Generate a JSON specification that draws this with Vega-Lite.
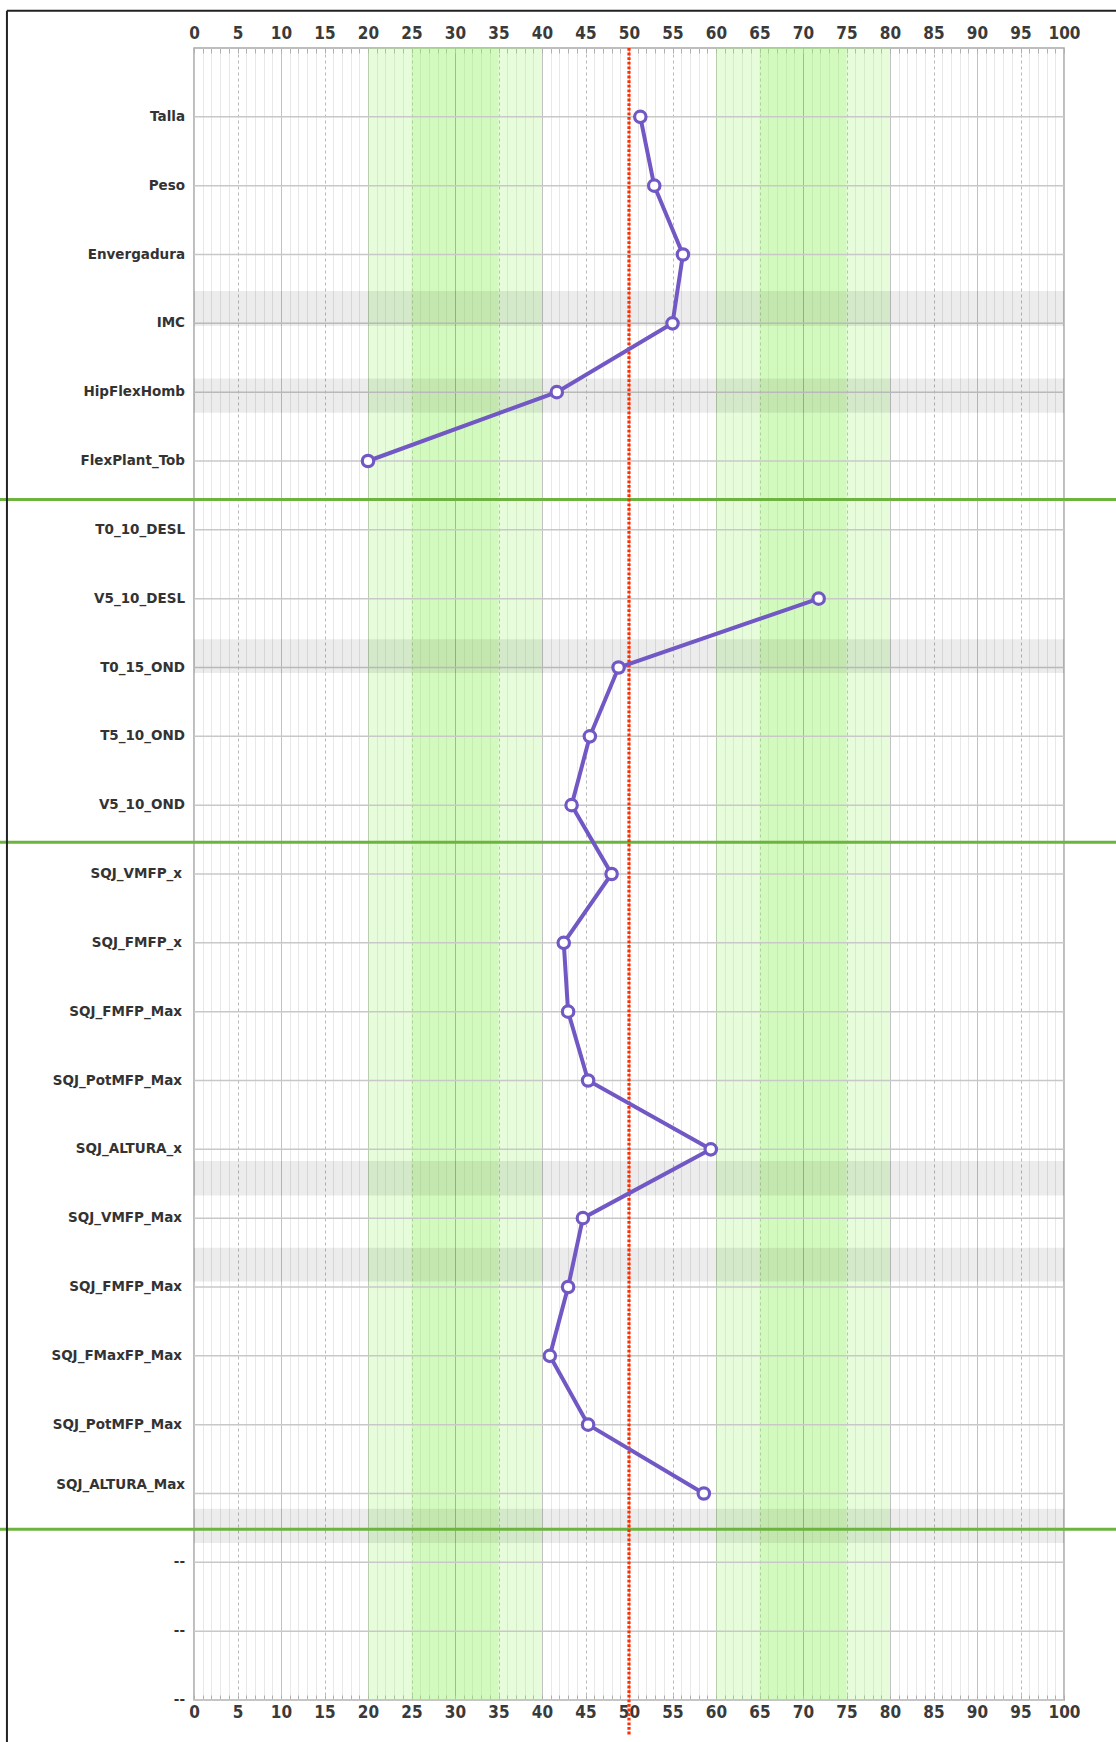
{
  "$schema": "https://vega.github.io/schema/vega-lite/v6.json",
  "width": 870,
  "height": 1652,
  "autosize": "none",
  "padding": {"left": 194, "top": 48, "right": 52, "bottom": 42},
  "background": "white",
  "config": {
    "view": {"stroke": "#a8a8a8", "strokeWidth": 1.5},
    "font": "DejaVu Sans"
  },
  "datasets": {
    "scores": [
      {"idx": 1, "name": "Talla", "value": 51.3},
      {"idx": 2, "name": "Peso", "value": 52.9},
      {"idx": 3, "name": "Envergadura", "value": 56.2},
      {"idx": 4, "name": "IMC", "value": 55.0},
      {"idx": 5, "name": "HipFlexHomb", "value": 41.7},
      {"idx": 6, "name": "FlexPlant_Tob", "value": 20.0},
      {"idx": 7, "name": "T0_10_DESL", "value": null},
      {"idx": 8, "name": "V5_10_DESL", "value": 71.8},
      {"idx": 9, "name": "T0_15_OND", "value": 48.8},
      {"idx": 10, "name": "T5_10_OND", "value": 45.5},
      {"idx": 11, "name": "V5_10_OND", "value": 43.4},
      {"idx": 12, "name": "SQJ_VMFP_x", "value": 48.0},
      {"idx": 13, "name": "SQJ_FMFP_x", "value": 42.5},
      {"idx": 14, "name": "SQJ_FMFP_Max", "value": 43.0},
      {"idx": 15, "name": "SQJ_PotMFP_Max", "value": 45.3},
      {"idx": 16, "name": "SQJ_ALTURA_x", "value": 59.4},
      {"idx": 17, "name": "SQJ_VMFP_Max", "value": 44.7},
      {"idx": 18, "name": "SQJ_FMFP_Max", "value": 43.0},
      {"idx": 19, "name": "SQJ_FMaxFP_Max", "value": 40.9},
      {"idx": 20, "name": "SQJ_PotMFP_Max", "value": 45.3},
      {"idx": 21, "name": "SQJ_ALTURA_Max", "value": 58.6},
      {"idx": 22, "name": "--", "value": null},
      {"idx": 23, "name": "--", "value": null},
      {"idx": 24, "name": "--", "value": null}
    ],
    "greenBands": [
      {"from": 20, "to": 40},
      {"from": 60, "to": 80},
      {"from": 25, "to": 35},
      {"from": 65, "to": 75}
    ],
    "grayBands": [
      {"y1": 3.53, "y2": 4.04},
      {"y1": 4.8, "y2": 5.3},
      {"y1": 8.59, "y2": 9.08},
      {"y1": 16.17, "y2": 16.67},
      {"y1": 17.43, "y2": 17.92},
      {"y1": 21.22, "y2": 21.72}
    ],
    "separators": [
      {"pos": 6.56},
      {"pos": 11.54},
      {"pos": 21.52}
    ],
    "one": [{}]
  },
  "layer": [
    {
      "data": {"name": "greenBands"},
      "mark": {"type": "rect", "color": "#9cf56a", "opacity": 0.25},
      "encoding": {
        "x": {"field": "from", "type": "quantitative", "scale": {"domain": [0, 100], "nice": false, "zero": false},
          "axis": {"orient": "top", "title": null, "tickCount": 100, "labelOverlap": false, "labelFlush": false,
            "labelExpr": "datum.value % 5 === 0 ? datum.label : ''",
            "labelFont": "DejaVu Sans Condensed, DejaVu Sans", "labelFontWeight": "bold", "labelFontSize": 17, "labelColor": "#3a3a3a",
            "labelPadding": 11, "tickSize": -5, "tickColor": "#b0b0b0", "domain": false,
            "grid": true,
            "gridColor": {"condition": [
              {"test": "datum.value === 30 || datum.value === 70", "value": "#9a9a9a"},
              {"test": "datum.value % 10 === 0", "value": "#c2c2c2"},
              {"test": "datum.value % 5 === 0", "value": "#b8b8b8"}
            ], "value": "#e8e8e8"},
            "gridDash": {"condition": {"test": "datum.value % 10 === 5", "value": [3, 3]}, "value": []},
            "gridWidth": 1}},
        "x2": {"field": "to"}
      }
    },
    {
      "data": {"name": "scores"},
      "mark": {"type": "rule", "color": "#c8c8c8", "strokeWidth": 1.5},
      "encoding": {
        "y": {"field": "idx", "type": "quantitative", "scale": {"domain": [0, 24], "reverse": true, "nice": false, "zero": false}, "axis": null}
      }
    },
    {
      "data": {"name": "grayBands"},
      "mark": {"type": "rect", "color": "#000000", "opacity": 0.075},
      "encoding": {
        "y": {"field": "y1", "type": "quantitative", "axis": null},
        "y2": {"field": "y2"}
      }
    },
    {
      "data": {"name": "separators"},
      "mark": {"type": "rule", "color": "#6db33f", "strokeWidth": 3, "clip": false},
      "encoding": {
        "y": {"field": "pos", "type": "quantitative", "axis": null},
        "x": {"datum": -22.3, "type": "quantitative", "axis": null},
        "x2": {"datum": 106}
      }
    },
    {
      "data": {"name": "one"},
      "mark": {"type": "rule", "color": "#222222", "strokeWidth": 2, "clip": false},
      "encoding": {
        "y": {"datum": -0.54, "type": "quantitative", "axis": null},
        "x": {"datum": -21.5, "type": "quantitative", "axis": null},
        "x2": {"datum": 106}
      }
    },
    {
      "data": {"name": "one"},
      "mark": {"type": "rule", "color": "#222222", "strokeWidth": 2, "clip": false},
      "encoding": {
        "x": {"datum": -21.5, "type": "quantitative", "axis": null},
        "y": {"datum": -0.54, "type": "quantitative", "axis": null},
        "y2": {"datum": 24.7}
      }
    },
    {
      "data": {"name": "scores"},
      "transform": [{"filter": "datum.idx <= 11 || datum.idx >= 22"}],
      "mark": {"type": "text", "align": "right", "baseline": "middle", "dx": -9, "font": "DejaVu Sans", "fontWeight": "bold", "fontSize": 13.5, "color": "#333333", "clip": false},
      "encoding": {
        "x": {"datum": 0, "type": "quantitative", "axis": null},
        "y": {"field": "idx", "type": "quantitative", "axis": null},
        "text": {"field": "name"}
      }
    },
    {
      "data": {"name": "scores"},
      "transform": [{"filter": "datum.idx >= 12 && datum.idx <= 20"}],
      "mark": {"type": "text", "align": "right", "baseline": "middle", "dx": -12, "font": "DejaVu Sans", "fontWeight": "bold", "fontSize": 13.5, "color": "#333333", "clip": false},
      "encoding": {
        "x": {"datum": 0, "type": "quantitative", "axis": null},
        "y": {"field": "idx", "type": "quantitative", "axis": null},
        "text": {"field": "name"}
      }
    },
    {
      "data": {"name": "scores"},
      "transform": [{"filter": "datum.idx === 21"}],
      "mark": {"type": "text", "align": "right", "baseline": "middle", "dx": -9, "dy": -9, "font": "DejaVu Sans", "fontWeight": "bold", "fontSize": 13.5, "color": "#333333", "clip": false},
      "encoding": {
        "x": {"datum": 0, "type": "quantitative", "axis": null},
        "y": {"field": "idx", "type": "quantitative", "axis": null},
        "text": {"field": "name"}
      }
    },
    {
      "data": {"name": "one"},
      "mark": {"type": "rule", "color": "#ff2e00", "strokeWidth": 3.2, "strokeDash": [2.8, 1.8], "clip": false},
      "encoding": {
        "x": {"datum": 50, "type": "quantitative",
          "axis": {"orient": "bottom", "title": null, "tickCount": 100, "labelOverlap": false, "labelFlush": false, "grid": false,
            "labelExpr": "datum.value % 5 === 0 ? datum.label : ''",
            "labelFont": "DejaVu Sans Condensed, DejaVu Sans", "labelFontWeight": "bold", "labelFontSize": 17, "labelColor": "#3a3a3a",
            "labelPadding": 9, "tickSize": -5, "tickColor": "#b0b0b0", "domain": false}},
        "y": {"datum": 0, "type": "quantitative", "axis": null},
        "y2": {"datum": 24.5}
      }
    },
    {
      "data": {"name": "scores"},
      "mark": {"type": "line", "color": "#7158c4", "strokeWidth": 4, "invalid": "break-paths-filter-domains"},
      "encoding": {
        "x": {"field": "value", "type": "quantitative", "axis": null},
        "y": {"field": "idx", "type": "quantitative", "axis": null},
        "order": {"field": "idx", "type": "quantitative"}
      }
    },
    {
      "data": {"name": "scores"},
      "mark": {"type": "point", "shape": "circle", "filled": true, "fill": "white", "stroke": "#7158c4", "strokeWidth": 3.2, "size": 130, "opacity": 1},
      "encoding": {
        "x": {"field": "value", "type": "quantitative", "axis": null},
        "y": {"field": "idx", "type": "quantitative", "axis": null}
      }
    }
  ]
}
